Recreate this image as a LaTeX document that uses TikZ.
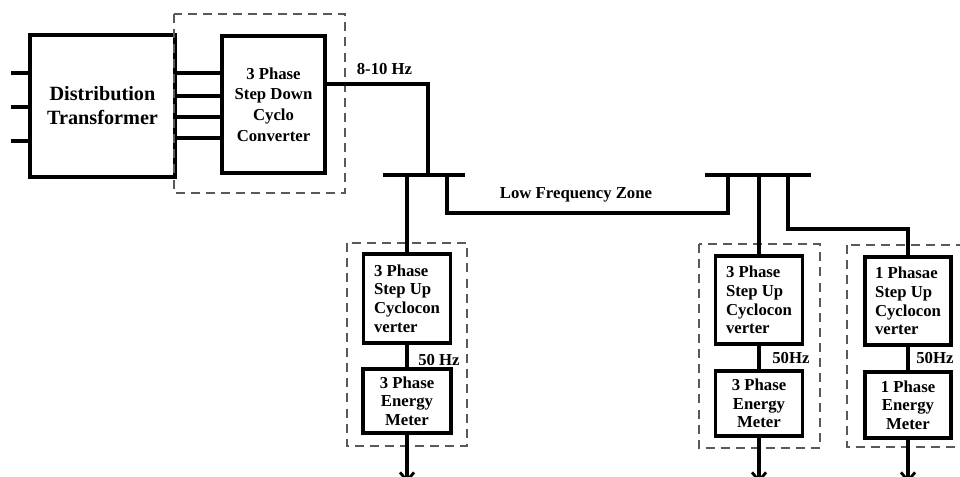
\documentclass[tikz,border=0pt]{standalone}
\usepackage{fontspec}
\setmainfont{Liberation Serif}
\usetikzlibrary{arrows.meta}

\tikzset{
  blk/.style={draw, line width=2.5pt, inner sep=0pt, align=left, font=\bfseries\fontsize{11.9}{13.2}\selectfont},
  wire/.style={line width=2.5pt},
  frame/.style={draw=black!65, line width=0.8pt, dash pattern=on 6.4pt off 4.3pt},
  lbl/.style={inner sep=0pt, font=\bfseries\fontsize{11.9}{13.2}\selectfont},
  feed/.style={wire, -{Straight Barb[length=6pt,width=10pt,line width=2pt]}},
}

\begin{document}
\begin{tikzpicture}[x=0.025cm,y=-0.025cm]
  \useasboundingbox (0,0) rectangle (960,477);
  % source side
  \node[blk, minimum width=3.625cm, minimum height=3.55cm, align=center, font=\bfseries\fontsize{14.4}{17}\selectfont] (dt) at (102.5,106) {Distribution\\Transformer};
  \node[blk, minimum width=2.575cm, minimum height=3.425cm, align=center, font=\bfseries\fontsize{11.9}{14.7}\selectfont] (sdc) at (273.5,104.5) {3 Phase\\Step Down\\Cyclo\\Converter};
  \draw[frame] (174,14) rectangle (345,193);
  \foreach \y/\i in {73/1,107/2,141/3} { \coordinate (in\i) at (11,\y); \draw[wire] (in\i) -- (in\i -| dt.west); }
  \foreach \y in {73,96,117,138} \draw[wire] (dt.east |- 0,\y) -- (sdc.west |- 0,\y);
  \node[lbl] (lf) at (384.5,69) {8-10 Hz};
  % buses
  \coordinate (bus1w) at (383,175); \coordinate (bus1e) at (465,175);
  \coordinate (bus2w) at (705,175); \coordinate (bus2e) at (811,175);
  \coordinate (tap1) at (428,175); \coordinate (tap2) at (447,175);
  \coordinate (tap3) at (728,175); \coordinate (tap4) at (788,175);
  \coordinate (zone) at (600,213);
  \draw[wire] (bus1w) -- (bus1e); \draw[wire] (bus2w) -- (bus2e);
  \draw[wire] (sdc.east |- 0,84) -| (tap1);
  \draw[wire] (tap2) |- (zone) -| (tap3);
  \node[lbl] (lfz) at (576,195) {Low Frequency Zone};
  % consumer branches
  \node[blk, minimum width=2.175cm, minimum height=2.225cm] (cycA) at (407,298.5) {3 Phase\\Step Up\\Cyclocon\\verter};
  \node[blk, minimum width=2.2cm, minimum height=1.6cm, align=center] (meterA) at (407,401) {3 Phase\\Energy\\Meter};
  \node[blk, minimum width=2.175cm, minimum height=2.2cm] (cycB) at (759,300) {3 Phase\\Step Up\\Cyclocon\\verter};
  \node[blk, minimum width=2.175cm, minimum height=1.625cm, align=center] (meterB) at (759,403.5) {3 Phase\\Energy\\Meter};
  \node[blk, minimum width=2.15cm, minimum height=2.2cm] (cycC) at (908,301) {1 Phasae\\Step Up\\Cyclocon\\verter};
  \node[blk, minimum width=2.15cm, minimum height=1.65cm, align=center] (meterC) at (908,405) {1 Phase\\Energy\\Meter};
  \draw[frame] (347,243) rectangle (467,446);
  \draw[frame] (699,244) rectangle (820,448);
  \draw[frame] (847,245) rectangle (975,447);
  \draw[wire] (cycA.north |- bus1w) -- (cycA.north);
  \draw[wire] (cycB.north |- bus2w) -- (cycB.north);
  \draw[wire] (tap4) -- ++(0,54) -| (cycC.north);
  \foreach \b in {A,B,C} {
    \draw[wire] (cyc\b.south) -- (meter\b.north);
    \draw[feed] (meter\b.south) -- (meter\b.south |- 0,483);
  }
  \node[lbl, anchor=west] (hzA) at (418,360) {50 Hz};
  \node[lbl, anchor=west] (hzB) at (772,358) {50Hz};
  \node[lbl, anchor=west] (hzC) at (916,358) {50Hz};
\end{tikzpicture}
\end{document}
